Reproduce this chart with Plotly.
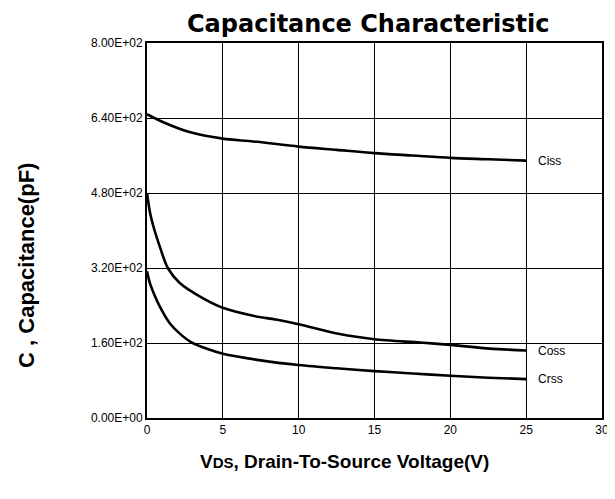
import plotly.graph_objects as go

# Data
vds_ciss = [0, 1, 2.8, 5, 7, 10, 12.5, 15, 17.5, 20, 22.5, 25]
ciss = [648, 632, 610, 596, 590, 579, 572, 565, 560, 555, 552, 549]

vds_coss = [0, 0.2, 0.5, 0.84, 1.37, 2.16, 3.5, 5, 7, 8.5, 10, 12.7, 15, 18, 20, 22.6, 25]
coss = [480, 438, 400, 366, 320, 288, 259, 235, 218, 210, 200, 179, 168, 161, 156, 148, 144]

vds_crss = [0, 0.18, 0.5, 0.84, 1.5, 2.16, 2.9, 4, 5, 7.5, 10, 12.5, 15, 17.5, 20, 22.5, 25]
crss = [313, 289, 262, 238, 202, 180, 162, 147, 137, 123, 113, 106, 100, 95, 90, 86, 83]

series_names = ["Ciss", "Coss", "Crss"]
y_tickvals = [0, 160, 320, 480, 640, 800]
y_ticktext = ["0.00E+00", "1.60E+02", "3.20E+02", "4.80E+02", "6.40E+02", "8.00E+02"]
x_tickvals = [0, 5, 10, 15, 20, 25, 30]
x_ticktext = ["0", "5", "10", "15", "20", "25", "30"]

fig = go.Figure()
for xs, ys, name in zip([vds_ciss, vds_coss, vds_crss], [ciss, coss, crss], series_names):
    fig.add_trace(go.Scatter(x=xs, y=ys, mode="lines", name=name,
                             line=dict(color="black", width=2.6, shape="spline", smoothing=0.8),
                             showlegend=False))
    fig.add_annotation(x=xs[-1] + 0.65, y=ys[-1], text=name, showarrow=False, xanchor="left",
                       yanchor="middle", font=dict(family="Liberation Sans, Arial", size=12, color="black"))

# Title and axis titles
fig.add_annotation(xref="paper", yref="paper", x=0.4857, y=1.0507, showarrow=False,
                   xanchor="center", yanchor="middle", text="<b>Capacitance Characteristic</b>",
                   font=dict(family="DejaVu Sans, Liberation Sans", size=24, color="black"))
fig.add_annotation(xref="paper", yref="paper", x=-0.266, y=0.408, showarrow=False, textangle=-90,
                   xanchor="center", yanchor="middle", text="<b>C , Capacitance(pF)</b>",
                   font=dict(family="Liberation Sans, Arial", size=22, color="black"))
fig.add_annotation(xref="paper", yref="paper", x=0.435, y=-0.117, showarrow=False,
                   xanchor="center", yanchor="middle",
                   text="<b>V<span style='font-size:15px'>DS</span>, Drain-To-Source Voltage(V)</b>",
                   font=dict(family="Liberation Sans, Arial", size=19, color="black"))

# the page body adds an 8px offset, so the figure is 8px smaller and its margins compensate
fig.update_layout(
    width=607, height=491,
    margin=dict(l=139, r=13, t=35, b=81),
    paper_bgcolor="white", plot_bgcolor="white",
    xaxis=dict(range=[0, 30], tickvals=x_tickvals, ticktext=x_ticktext, showgrid=True,
               gridcolor="black", gridwidth=1, showline=True, linecolor="black", linewidth=2,
               mirror=True, ticks="", zeroline=False, automargin=False,
               tickfont=dict(family="Liberation Sans Narrow, Liberation Sans", size=12, color="black")),
    yaxis=dict(range=[0, 800], tickvals=y_tickvals, ticktext=y_ticktext, showgrid=True,
               gridcolor="black", gridwidth=1, showline=True, linecolor="black", linewidth=2,
               mirror=True, ticks="", zeroline=False, automargin=False,
               tickfont=dict(family="Liberation Sans, Arial", size=12, color="black")),
)

fig.write_html("out.html")
